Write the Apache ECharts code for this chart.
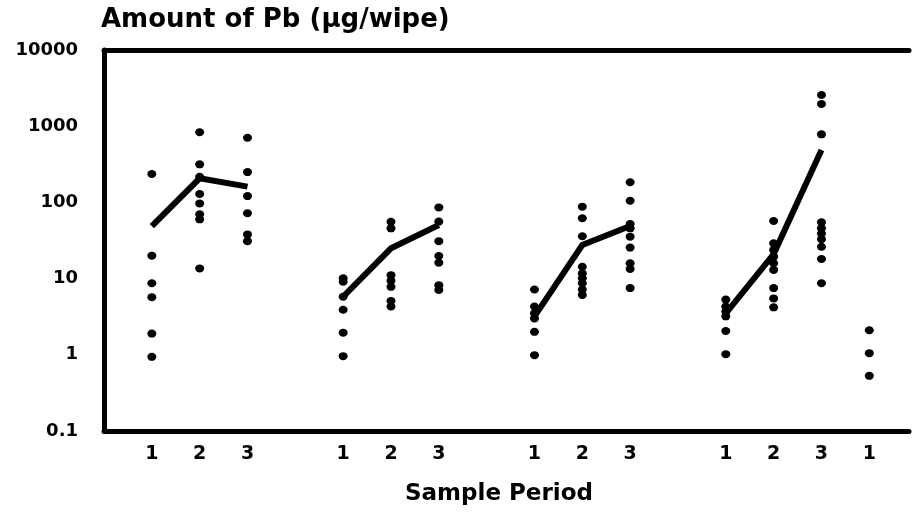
<!DOCTYPE html>
<html>
<head>
<meta charset="utf-8">
<title>Amount of Pb (µg/wipe)</title>
<script src="https://cdn.jsdelivr.net/npm/echarts@6/dist/echarts.min.js"></script>
<style>
  html, body { margin: 0; padding: 0; background: #ffffff; }
  #chart { width: 912px; height: 516px; }
</style>
</head>
<body>
<div id="chart"></div>
<script>
// Sample-period tick labels, one per x slot (blank slots separate the wipe sets)
const periodTicks = ['1', '2', '3', '', '1', '2', '3', '', '1', '2', '3', '', '1', '2', '3', '1'];
const yTickLabels = ['0.1', '1', '10', '100', '1000', '10000'];

// Individual wipe results (µg Pb per wipe)
const set1Period1 = [236, 20, 8.7, 5.7, 1.9, 0.94];
const set1Period2 = [832, 316, 217, 129, 97, 70, 60, 13.6];
const set1Period3 = [706, 250, 121, 72, 38, 31];

const set2Period1 = [10.1, 9.1, 5.8, 3.9, 1.95, 0.96];
const set2Period2 = [55.8, 45.7, 11.1, 9.4, 7.8, 5.1, 4.3];
const set2Period3 = [86, 56, 31, 19.8, 16.2, 8.2, 7.1];

const set3Period1 = [7.2, 4.3, 3.5, 3.0, 2.0, 0.99];
const set3Period2 = [88, 62, 36, 14.3, 11.7, 10.1, 8.7, 7.2, 6.1];
const set3Period3 = [184, 105, 52, 45.7, 35.5, 25.5, 15.9, 13.4, 7.5];

const set4Period1 = [5.3, 4.3, 3.7, 3.2, 2.05, 1.02];
const set4Period2 = [57, 29, 23.7, 19.4, 15.9, 13, 7.5, 5.5, 4.2];
const set4Period3 = [2567, 1955, 782, 54.8, 45.7, 39, 32.8, 26.2, 18.1, 8.7];

const set5Period1 = [2.1, 1.05, 0.53];

// Central values joined by the trend line in each set
const set1Trend = [49, 207, 161];
const set2Trend = [5.8, 25, 50.5];
const set3Trend = [3.2, 27.6, 49];
const set4Trend = [3.5, 21, 487];

// x slot of each group of wipes
const wipeGroups = [
  [0, set1Period1], [1, set1Period2], [2, set1Period3],
  [4, set2Period1], [5, set2Period2], [6, set2Period3],
  [8, set3Period1], [9, set3Period2], [10, set3Period3],
  [12, set4Period1], [13, set4Period2], [14, set4Period3],
  [15, set5Period1]
];
const trendGroups = [
  [0, set1Trend], [4, set2Trend], [8, set3Trend], [12, set4Trend]
];

const scatterData = [];
wipeGroups.forEach(([slot, values]) => {
  values.forEach(v => scatterData.push([slot, v]));
});

const trendData = [];
trendGroups.forEach(([start, values], gi) => {
  if (gi > 0) trendData.push([start - 1, '-']);
  values.forEach((v, i) => trendData.push([start + i, v]));
});

const FONT = '"DejaVu Sans", "Liberation Sans", Arial, sans-serif';

const chart = echarts.init(document.getElementById('chart'), null, { renderer: 'canvas' });

const xCommon = {
  type: 'value',
  min: -1,
  max: 15.83,
  interval: 1,
  splitLine: { show: false },
  axisTick: { show: false }
};

chart.setOption({
  animation: false,
  backgroundColor: '#ffffff',
  title: [
    {
      text: 'Amount of Pb (µg/wipe)',
      left: 96,
      top: 2,
      textStyle: { fontFamily: FONT, fontWeight: 'bold', fontSize: 26, color: '#000' }
    },
    {
      text: 'Sample Period',
      left: 400,
      top: 478,
      textStyle: { fontFamily: FONT, fontWeight: 'bold', fontSize: 23, color: '#000' }
    }
  ],
  grid: { left: 104, right: 0, top: 50, bottom: 85, containLabel: false },
  xAxis: [
    Object.assign({}, xCommon, {
      position: 'bottom',
      axisLine: { show: true, onZero: false, lineStyle: { color: '#000', width: 5 } },
      axisLabel: {
        show: true,
        margin: 14,
        color: '#000',
        fontFamily: FONT,
        fontWeight: 'bold',
        fontSize: 19,
        showMinLabel: true,
        showMaxLabel: true,
        formatter: v => (Number.isInteger(v) && v >= 0 && v < periodTicks.length) ? periodTicks[v] : ''
      }
    }),
    Object.assign({}, xCommon, {
      position: 'top',
      axisLine: { show: true, onZero: false, lineStyle: { color: '#000', width: 5 } },
      axisLabel: { show: false }
    })
  ],
  yAxis: {
    type: 'log',
    logBase: 10,
    min: 0.1,
    max: 10000,
    splitLine: { show: false },
    axisTick: { show: false },
    axisLine: { show: true, onZero: false, lineStyle: { color: '#000', width: 5 } },
    axisLabel: {
      margin: 26,
      color: '#000',
      fontFamily: FONT,
      fontWeight: 'bold',
      fontSize: 18,
      padding: [0, 0, 6, 0],
      formatter: (v, i) => yTickLabels[i]
    }
  },
  series: [
    {
      type: 'scatter',
      xAxisIndex: 0,
      data: scatterData,
      symbol: 'circle',
      symbolSize: [9, 8],
      itemStyle: { color: '#000', opacity: 1 },
      silent: true,
      z: 2
    },
    {
      type: 'line',
      xAxisIndex: 0,
      data: trendData,
      connectNulls: false,
      showSymbol: false,
      symbol: 'none',
      lineStyle: { color: '#000', width: 6, cap: 'butt', join: 'miter' },
      silent: true,
      z: 3
    }
  ]
});
</script>
</body>
</html>
